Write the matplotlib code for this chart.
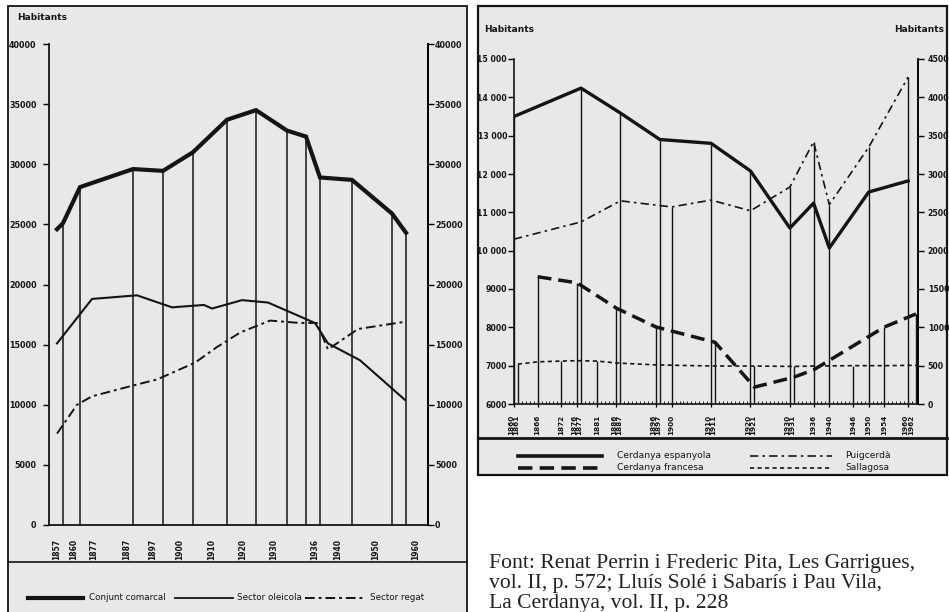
import numpy as np
import matplotlib.pyplot as plt
from matplotlib.patches import Rectangle

# ---------------- Les Garrigues (left chart) ----------------
# horizontal axis of the original is not to scale: positions are column offsets
garr_labels = ['1857', '1860', '1877', '1887', '1897', '1900', '1910',
               '1920', '1930', '1936', '1940', '1950', '1960']
garr_label_pos = [8, 25, 45, 78, 104, 131, 163, 194, 225, 266, 289, 327, 367]

conj_pos = [8, 14, 31, 84, 114, 144, 178, 207, 238, 257, 271, 303, 343, 357]
conj_val = [24600, 25100, 28100, 29600, 29450, 31000, 33700, 34500, 32800,
            32300, 28900, 28700, 25900, 24300]

oleic_pos = [8, 43, 88, 123, 155, 163, 193, 219, 266, 279, 311, 356]
oleic_val = [15100, 18800, 19100, 18100, 18300, 18000, 18700, 18500, 16800,
             15100, 13700, 10400]

regat_pos = [8, 28, 43, 84, 108, 146, 168, 191, 221, 251, 268, 279, 309, 356]
regat_val = [7600, 10000, 10700, 11600, 12100, 13500, 14800, 16000, 17000,
             16800, 16800, 14600, 16300, 16900]

# ---------------- La Cerdanya (right chart) ----------------
esp_years = [1860, 1877, 1887, 1897, 1910, 1920, 1930, 1936, 1940, 1950, 1960]
esp_val = [13500, 14240, 13590, 12900, 12800, 12080, 10590, 11240, 10070, 11530, 11820]

fra_years = [1866, 1876, 1886, 1896, 1911, 1921, 1931, 1936, 1954, 1962]
fra_val = [9320, 9160, 8500, 8010, 7610, 6440, 6700, 6890, 8010, 8350]

puig_years = [1860, 1877, 1887, 1900, 1910, 1920, 1930, 1936, 1940, 1950, 1960]
puig_val = [2150, 2375, 2650, 2570, 2660, 2520, 2830, 3420, 2600, 3350, 4265]

sall_years = [1861, 1866, 1872, 1876, 1881, 1886, 1896, 1911, 1921, 1931, 1936,
              1946, 1954, 1962]
sall_val = [520, 550, 560, 565, 560, 535, 510, 495, 495, 490, 495, 500, 500, 505]

cerd_ticks = [1860, 1866, 1872, 1876, 1881, 1886, 1896, 1900, 1910, 1920,
              1930, 1936, 1940, 1946, 1950, 1954, 1960]
cerd_labels = ['1860\n1861', '1866', '1872', '1876\n1877', '1881', '1886\n1887',
               '1896\n1897', '1900', '1910\n1911', '1920\n1921', '1930\n1931',
               '1936', '1940', '1946', '1950', '1954', '1960\n1962']

source = ['Font: Renat Perrin i Frederic Pita, Les Garrigues,',
          'vol. II, p. 572; Lluís Solé i Sabarís i Pau Vila,',
          'La Cerdanya, vol. II, p. 228']

INK = '#141414'
PAPER = '#e8e8e8'
W, H = 949, 612

fig = plt.figure(figsize=(W / 100, H / 100), dpi=100)

# background layer in pixel units (frames, separators, legends)
bg = fig.add_axes([0, 0, 1, 1], zorder=0)
bg.set_xlim(0, W)
bg.set_ylim(H, 0)
bg.axis('off')
bg.add_patch(Rectangle((8, 6), 459, 620, facecolor=PAPER, edgecolor=INK, lw=1.3))
bg.add_patch(Rectangle((478, 6), 469, 469, facecolor=PAPER, edgecolor=INK, lw=1.6))
bg.plot([8, 467], [562, 562], color=INK, lw=1.2)
bg.plot([478, 947], [438, 438], color=INK, lw=2)

tfont = dict(family='DejaVu Sans', color=INK)
bg.text(17, 17, 'Habitants', fontsize=6.5, fontweight='bold', va='center', **tfont)
bg.text(484, 29, 'Habitants', fontsize=6.5, fontweight='bold', va='center', **tfont)
bg.text(944, 29, 'Habitants', fontsize=6.5, fontweight='bold', va='center', ha='right', **tfont)

# left legend
bg.plot([28, 83], [598, 598], color=INK, lw=3)
bg.text(89, 597, 'Conjunt comarcal', fontsize=6.3, va='center', **tfont)
bg.plot([175, 233], [598, 598], color=INK, lw=1.3)
bg.text(237, 597, 'Sector oleicola', fontsize=6.3, va='center', **tfont)
bg.plot([305, 363], [598, 598], color=INK, lw=1.4, dashes=(5, 2, 1.5, 2))
bg.text(370, 597, 'Sector regat', fontsize=6.3, va='center', **tfont)

# right legend
bg.plot([518, 602], [456, 456], color=INK, lw=2.6)
bg.text(617, 455, 'Cerdanya espanyola', fontsize=6.6, va='center', **tfont)
bg.plot([518, 602], [468, 468], color=INK, lw=2.6, dashes=(4, 2))
bg.text(617, 467, 'Cerdanya francesa', fontsize=6.6, va='center', **tfont)
bg.plot([750, 832], [456, 456], color=INK, lw=1.2, dashes=(5, 2.5, 1.5, 2.5))
bg.text(845, 455, 'Puigcerdà', fontsize=6.6, va='center', **tfont)
bg.plot([750, 832], [468, 468], color=INK, lw=1.2, dashes=(2.5, 2))
bg.text(845, 467, 'Sallagosa', fontsize=6.6, va='center', **tfont)

for i, line in enumerate(source):
    fig.text(489 / W, 1 - (568 + 20 * i) / H, line, fontsize=15.6,
             family='Liberation Serif', color='#222222', va='baseline')

# ---------------- left chart ----------------
ax = fig.add_axes([49 / W, (H - 525) / H, 379 / W, (525 - 44) / H], zorder=1)
ax.set_facecolor('none')
ax.set_xlim(0, 379)
ax.set_ylim(0, 40000)
ax.vlines(conj_pos[1:], 0, conj_val[1:], color=INK, lw=1.1)
ax.plot(conj_pos, conj_val, color=INK, lw=3, solid_joinstyle='miter')
ax.plot(oleic_pos, oleic_val, color=INK, lw=1.5)
ax.plot(regat_pos, regat_val, color=INK, lw=1.4, dashes=(5, 2, 1.5, 2))
ax.spines['top'].set_visible(False)
for s in ['left', 'right', 'bottom']:
    ax.spines[s].set_color(INK)
    ax.spines[s].set_linewidth(1.3)
yt = np.arange(0, 40001, 5000)
ax.set_yticks(yt, [str(v) for v in yt], fontsize=5.8, fontweight='bold', color=INK)
ax.tick_params(axis='y', direction='out', length=4, width=1, pad=5)
ax.set_xticks(garr_label_pos, garr_labels, rotation=90, fontsize=5.5,
              fontweight='bold', color=INK)
ax.tick_params(axis='x', length=0, pad=10)
ax2 = ax.twinx()
ax2.set_ylim(0, 40000)
ax2.set_yticks(yt, [str(v) for v in yt], fontsize=5.8, fontweight='bold', color=INK)
ax2.tick_params(axis='y', direction='out', length=4, width=1, pad=1)
for s in ['top', 'left', 'bottom']:
    ax2.spines[s].set_visible(False)
ax2.spines['right'].set_linewidth(1.3)

# ---------------- right chart ----------------
bx = fig.add_axes([514 / W, (H - 404) / H, 404 / W, (404 - 59) / H], zorder=1)
bx.set_facecolor('none')
bx.set_xlim(1860, 1962.5)
bx.set_ylim(6000, 15000)

# drop lines up to the highest series at each census year (right scale -> left)
tops = {}
for yrs, vals in [(esp_years, esp_val), (fra_years, fra_val)]:
    for y, v in zip(yrs, vals):
        tops[y] = max(tops.get(y, 0), v)
for yrs, vals in [(puig_years, puig_val), (sall_years, sall_val)]:
    for y, v in zip(yrs, vals):
        tops[y] = max(tops.get(y, 0), 6000 + 2 * v)
drop_years = sorted(tops)
bx.vlines(drop_years, 6000, [tops[y] for y in drop_years], color=INK, lw=1.0)

bx.plot(esp_years, esp_val, color=INK, lw=2.4)
bx.plot(fra_years, fra_val, color=INK, lw=2.5, dashes=(4, 2))
bx2 = bx.twinx()
bx2.set_ylim(0, 4500)
bx2.plot(puig_years, puig_val, color=INK, lw=1.2, dashes=(5, 2.5, 1.5, 2.5))
bx2.plot(sall_years, sall_val, color=INK, lw=1.2, dashes=(2.5, 2))

bx.spines['top'].set_visible(False)
for s in ['left', 'right', 'bottom']:
    bx.spines[s].set_color(INK)
    bx.spines[s].set_linewidth(1.2)
lt = np.arange(6000, 15001, 1000)
bx.set_yticks(lt, [f'{v // 1000} 000' if v >= 10000 else str(v) for v in lt],
              fontsize=5.6, fontweight='bold', color=INK)
bx.tick_params(axis='y', direction='out', length=4, width=1, pad=1)
bx.set_xticks(cerd_ticks, cerd_labels, rotation=90, fontsize=5.2,
              fontweight='bold', color=INK, linespacing=0.85)
bx.set_xticks(np.arange(1860, 1963, 1), minor=True)
bx.tick_params(axis='x', which='major', direction='inout', length=5, width=0.9, pad=5)
bx.tick_params(axis='x', which='minor', direction='in', length=2.5, width=0.6)
rt = np.arange(0, 4501, 500)
bx2.set_yticks(rt, [str(v) for v in rt], fontsize=5.6, fontweight='bold', color=INK)
bx2.tick_params(axis='y', direction='out', length=4, width=1, pad=3)
for s in ['top', 'left', 'bottom']:
    bx2.spines[s].set_visible(False)
bx2.spines['right'].set_linewidth(1.2)

fig.savefig('out.png', dpi=100)
